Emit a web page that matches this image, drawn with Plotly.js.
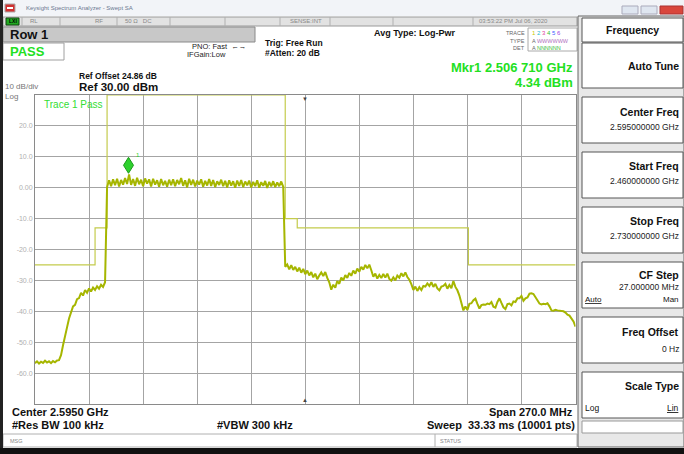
<!DOCTYPE html>
<html><head><meta charset="utf-8">
<script src="https://cdn.plot.ly/plotly-3.0.1.min.js"></script>
<style>html,body{margin:0;padding:0;background:#fff}#chart{width:684px;height:454px}</style>
</head><body><div id="chart"></div>
<script>
// ---------- DATA ----------
const freqMHz = [
2460,2461,2462,2463,2464,2465,2466,2467,2468,2469,
2470,2471,2472,2473,2474,2475,2476,2477,2478,2479,
2480,2481,2482,2483,2484,2485,2486,2487,2488,2489,
2490,2491,2492,2493,2494,2495,2496,2497,2498,2499,
2500,2501,2502,2503,2504,2505,2506,2507,2508,2509,
2510,2511,2512,2513,2514,2515,2516,2517,2518,2519,
2520,2521,2522,2523,2524,2525,2526,2527,2528,2529,
2530,2531,2532,2533,2534,2535,2536,2537,2538,2539,
2540,2541,2542,2543,2544,2545,2546,2547,2548,2549,
2550,2551,2552,2553,2554,2555,2556,2557,2558,2559,
2560,2561,2562,2563,2564,2565,2566,2567,2568,2569,
2570,2571,2572,2573,2574,2575,2576,2577,2578,2579,
2580,2581,2582,2583,2584,2585,2586,2587,2588,2589,
2590,2591,2592,2593,2594,2595,2596,2597,2598,2599,
2600,2601,2602,2603,2604,2605,2606,2607,2608,2609,
2610,2611,2612,2613,2614,2615,2616,2617,2618,2619,
2620,2621,2622,2623,2624,2625,2626,2627,2628,2629,
2630,2631,2632,2633,2634,2635,2636,2637,2638,2639,
2640,2641,2642,2643,2644,2645,2646,2647,2648,2649,
2650,2651,2652,2653,2654,2655,2656,2657,2658,2659,
2660,2661,2662,2663,2664,2665,2666,2667,2668,2669,
2670,2671,2672,2673,2674,2675,2676,2677,2678,2679,
2680,2681,2682,2683,2684,2685,2686,2687,2688,2689,
2690,2691,2692,2693,2694,2695,2696,2697,2698,2699,
2700,2701,2702,2703,2704,2705,2706,2707,2708,2709,
2710,2711,2712,2713,2714,2715,2716,2717,2718,2719,
2720,2721,2722,2723,2724,2725,2726,2727,2728,2729,
2730];
const traceDbm = [
-56.8,-56.2,-56.9,-56.3,-56.7,-56.0,-56.6,-56.2,-56.8,-56.1,
-56.5,-55.9,-55.8,-54.2,-51.0,-47.6,-45.2,-42.3,-40.6,-38.4,
-37.9,-36.1,-35.7,-34.0,-34.9,-33.1,-34.0,-32.6,-33.6,-32.3,
-33.1,-31.9,-32.7,-31.4,-32.1,-30.6,
0.2,2.4,0.5,2.7,0.8,2.9,0.4,2.5,1.0,3.1,
1.2,4.3,0.9,2.8,0.6,3.2,1.1,2.6,0.5,3.0,
1.3,2.7,0.4,2.9,1.0,2.4,0.3,2.8,0.8,2.2,
0.3,2.6,0.8,2.7,0.5,2.5,1.1,3.1,0.6,2.4,
0.1,2.9,0.9,2.6,0.4,2.3,1.0,2.7,0.3,2.2,
0.7,2.8,0.6,2.5,0.2,2.1,0.9,2.6,0.5,2.2,
0.1,2.4,0.7,2.1,0.0,2.3,0.6,2.5,0.2,2.0,
0.8,2.3,0.1,1.9,0.5,2.4,0.0,1.8,0.6,2.2,
-0.1,1.9,0.4,2.1,0.2,1.7,0.5,2.0,0.3,
-25.6,-24.8,-26.4,-25.1,-26.6,
-25.6,-27.1,-25.9,-27.5,-26.3,-28.0,-26.8,-28.4,-27.3,-29.0,
-27.8,-29.6,-28.4,-27.4,-28.6,-27.3,-29.2,-30.6,-33.0,-31.4,
-32.4,-30.2,-31.1,-29.1,-30.0,-28.3,-29.2,-27.6,-28.5,-26.8,
-27.8,-26.2,-27.2,-25.6,-26.5,-25.0,-26.1,-24.9,-26.7,-28.8,
-27.8,-29.4,-28.2,-29.2,-27.9,-29.1,-27.8,-29.5,-30.1,-29.0,
-30.0,-28.4,-29.1,-27.7,-28.7,-27.4,-28.9,-29.8,-31.2,-33.1,
-32.0,-33.4,-32.2,-33.1,-31.8,-32.0,-31.0,-31.8,-30.6,-32.1,
-31.1,-32.6,-33.2,-32.0,-31.8,-31.1,-32.7,-31.5,-32.5,-30.2,
-32.1,-33.2,-34.9,-37.0,-39.7,-38.4,-39.6,-37.6,-37.4,-36.4,
-35.9,-37.6,-39.1,-38.0,-37.8,-37.9,-37.5,-37.7,-37.0,-38.5,
-38.8,-37.0,-35.8,-37.3,-38.7,-39.3,-37.7,-37.5,-38.1,-36.8,
-37.0,-35.8,-35.8,-35.0,-36.6,-35.8,-35.5,-34.3,-34.2,-34.4,
-35.4,-36.3,-37.5,-37.8,-37.6,-37.7,-37.4,-38.4,-39.7,-39.8,
-39.5,-39.7,-39.8,-40.0,-40.0,-40.4,-41.1,-41.4,-42.5,-43.3,
-45.0];
const limitFreqMHz = [2460, 2490, 2490, 2496, 2496, 2585, 2585, 2591, 2591, 2676.5, 2676.5, 2730];
const limitDbm     = [-25, -25, -13, -13, 30, 30, -10, -10, -13, -13, -25, -25];
const markerFreqMHz = 2506.71;
const markerDbm = 4.34;
const startMHz = 2460, stopMHz = 2730, divMHz = 27;
const refDbm = 30, bottomDbm = -70;
const yTickVals = [20, 10, 0, -10, -20, -30, -40, -50, -60];
const yTickText = ['20.0', '10.0', '0.00', '-10.0', '-20.0', '-30.0', '-40.0', '-50.0', '-60.0'];
const softkeyTitles = ['Center Freq', 'Start Freq', 'Stop Freq', 'CF Step', 'Freq Offset', 'Scale Type'];
const softkeyValues = ['2.595000000 GHz', '2.460000000 GHz', '2.730000000 GHz', '27.000000 MHz', '0 Hz', ''];

// ---------- LAYOUT HELPERS ----------
const W = 684, H = 454;
const px = x => x / W;
const py = y => 1 - y / H;
const FONT = 'Liberation Sans, Arial, sans-serif';
const shapes = [];
const ann = [];
function rect(x0, y0, x1, y1, fill, line, lw) {
  shapes.push({type: 'rect', xref: 'paper', yref: 'paper', x0: px(x0), x1: px(x1), y0: py(y1), y1: py(y0),
    fillcolor: fill || 'rgba(0,0,0,0)', line: {color: line || 'rgba(0,0,0,0)', width: lw === undefined ? 1 : lw}, layer: 'below'});
}
function vline(x, y0, y1, color, w) {
  shapes.push({type: 'line', xref: 'paper', yref: 'paper', x0: px(x), x1: px(x), y0: py(y0), y1: py(y1), line: {color: color, width: w || 1}});
}
function T(x, y, text, o) {
  o = o || {};
  ann.push({xref: 'paper', yref: 'paper', x: px(x), y: py(y), text: text, showarrow: false,
    xanchor: o.anchor || 'left', yanchor: 'middle',
    font: {family: FONT, size: o.size || 9, color: o.color || '#111', weight: o.bold ? 'bold' : 'normal'}});
}

// frame / chrome
rect(0, 0, 684, 16, '#f2f4f8', null, 0);
rect(5, 4, 15, 12, '#d03030', '#aaa');
rect(7, 7, 13, 9, '#ffffff', null, 0);
T(24, 8, 'Keysight Spectrum Analyzer - Swept SA', {size: 6, color: '#6a7890'});
rect(622, 6, 638, 14, '#dfe6f0', '#aab', 1);
rect(641, 6, 657, 14, '#dfe6f0', '#aab', 1);
rect(660, 6, 683, 14, '#d9463c', '#a33', 1);
rect(3, 17, 577, 26, '#e2e2e2', '#9a9a9a');
[22, 60, 117, 170, 225, 280, 330, 393, 473].forEach(x => vline(x, 17, 26, '#b0b0b0'));
rect(6, 18, 19, 25, '#22aa22', '#114411');
T(12.5, 21.5, 'LXI', {size: 5, color: '#000', anchor: 'center', bold: true});
T(28, 21.5, 'RL', {size: 6, color: '#888'});
T(93, 21.5, 'RF', {size: 6, color: '#888'});
T(123, 21.5, '50 Ω   DC', {size: 6, color: '#888'});
T(288, 21.5, 'SENSE:INT', {size: 6, color: '#888'});
T(477, 21.5, '03:53:22 PM Jul 06, 2020', {size: 6, color: '#888'});
rect(3, 27, 255, 42, '#c8c8c8', '#8a8a8a');
T(8, 34.5, 'Row 1', {size: 13, bold: true});
rect(3, 43, 64, 60, '#ffffff', '#a0a0a0');
T(8, 51.5, 'PASS', {size: 13, bold: true, color: '#22e022'});
T(190, 46.5, 'PNO: Fast  ←→', {size: 7.5, color: '#222'});
T(185, 55, 'IFGain:Low', {size: 7.5, color: '#222'});
T(263, 43, 'Trig: Free Run', {size: 8.5, bold: true});
T(263, 53, '#Atten: 20 dB', {size: 8.5, bold: true});
T(372, 33, 'Avg Type: Log-Pwr', {size: 9, bold: true});
rect(528, 28, 577, 51, null, '#aaaaaa');
T(527, 33, 'TRACE', {size: 5.5, color: '#666', anchor: 'right'});
T(527, 41, 'TYPE', {size: 5.5, color: '#666', anchor: 'right'});
T(527, 48, 'DET', {size: 5.5, color: '#666', anchor: 'right'});
T(530, 33, '<span style="color:#c8c800">1</span> <span style="color:#19b8d0">2</span> <span style="color:#e040a0">3</span> <span style="color:#30c030">4</span> <span style="color:#4060ff">5</span> <span style="color:#a040e0">6</span>', {size: 6});
T(530, 41, 'A <span style="color:#b070c0">WWWWWW</span>', {size: 5.5, color: '#666'});
T(530, 48, 'A <span style="color:#40c040">NNNNNN</span>', {size: 5.5, color: '#666'});
T(575, 67, 'Mkr1 2.506 710 GHz', {size: 13, bold: true, color: '#22e022', anchor: 'right'});
T(575, 83, '4.34 dBm', {size: 13, bold: true, color: '#22e022', anchor: 'right'});
T(77, 76, 'Ref Offset 24.86 dB', {size: 8.5, bold: true});
T(77, 87, 'Ref 30.00 dBm', {size: 11.5, bold: true});
T(3, 86.5, '10 dB/div', {size: 8, color: '#777'});
T(3, 96.5, 'Log', {size: 8, color: '#777'});
T(42, 104, 'Trace 1 Pass', {size: 10, color: '#33dd33'});
T(10, 412, 'Center 2.5950 GHz', {size: 11, bold: true});
T(10, 425, '#Res BW 100 kHz', {size: 11, bold: true});
T(215, 425, '#VBW 300 kHz', {size: 11, bold: true});
T(575, 412, 'Span 270.0 MHz', {size: 11, bold: true, anchor: 'right'});
T(577, 425, 'Sweep  33.33 ms (10001 pts)', {size: 11, bold: true, anchor: 'right'});
rect(3, 434, 577, 447, '#ffffff', '#b0b0b0');
vline(435, 434, 447, '#b0b0b0');
T(8, 440.5, 'MSG', {size: 5.5, color: '#888'});
T(438, 440.5, 'STATUS', {size: 5.5, color: '#888'});
// right soft key panel
rect(578, 16, 684, 447, '#e8e8e8', '#666');
rect(582, 18, 683, 42, '#ffffff', '#555');
T(632, 30, 'Frequency', {size: 10.5, bold: true, anchor: 'center'});
rect(582, 43, 683, 88, '#ffffff', '#555');
T(681, 66, 'Auto Tune', {size: 10.5, bold: true, anchor: 'right'});
const keyTops = [97, 152, 207, 262, 317, 372];
const titleOff = [15, 14, 14, 13, 15, 14];
const valueOff = [30, 29, 29, 25, 32, 0];
softkeyTitles.forEach((t, i) => {
  const y0 = keyTops[i];
  rect(582, y0, 683, y0 + 46, '#ffffff', '#555');
  T(681, y0 + titleOff[i], t, {size: 10.5, bold: true, anchor: 'right'});
  if (softkeyValues[i]) T(681, y0 + valueOff[i], softkeyValues[i], {size: 8.5, anchor: 'right', color: '#222'});
});
T(583, 299.5, '<u>Auto</u>', {size: 8});
T(681, 299.5, 'Man', {size: 8, anchor: 'right'});
T(583, 408, 'Log', {size: 8.5});
T(681, 408, '<u>Lin</u>', {size: 8.5, anchor: 'right'});
rect(582, 421, 683, 433, '#ffffff', '#999');
// outer dark borders
rect(0, 0, 3, 454, '#222', null, 0);
rect(0, 448, 684, 454, '#111', null, 0);

// marker diamond (pixel-sized shape anchored at the marker's data point)
shapes.push({type: 'path', xref: 'x', yref: 'y', xsizemode: 'pixel', ysizemode: 'pixel',
  xanchor: markerFreqMHz, yanchor: markerDbm, path: 'M0,1L5,9L0,17L-5,9Z',
  fillcolor: '#2ed12e', line: {color: '#1c9a1c', width: 1}, layer: 'above'});
ann.push({x: markerFreqMHz, y: markerDbm, xref: 'x', yref: 'y', text: '1', showarrow: false,
  xshift: 9, yshift: 19, font: {family: FONT, size: 6, color: '#2ed12e'}});
ann.push({x: (startMHz + stopMHz) / 2, y: refDbm, xref: 'x', yref: 'y', text: '▼', showarrow: false,
  yanchor: 'top', yshift: 1, font: {size: 6, color: '#444'}});
ann.push({x: (startMHz + stopMHz) / 2, y: bottomDbm, xref: 'x', yref: 'y', text: '▲', showarrow: false,
  yanchor: 'bottom', yshift: -1, font: {size: 6, color: '#444'}});

const data = [
  {x: limitFreqMHz, y: limitDbm, type: 'scatter', mode: 'lines', line: {color: '#c4cb4c', width: 1.2}, hoverinfo: 'skip'},
  {x: freqMHz, y: traceDbm, type: 'scatter', mode: 'lines', line: {color: '#a6b600', width: 2}, hoverinfo: 'skip'}
];
const layout = {
  width: W, height: H, margin: {l: 0, r: 0, t: 0, b: 0},
  paper_bgcolor: '#ffffff', plot_bgcolor: '#ffffff', showlegend: false,
  font: {family: FONT},
  xaxis: {domain: [px(35), px(575.5)], range: [startMHz, stopMHz], tick0: startMHz, dtick: divMHz,
    showticklabels: false, ticks: '', showgrid: true, gridcolor: '#a4a4a4', gridwidth: 1,
    zeroline: false, showline: true, linecolor: '#8a8a8a', linewidth: 1, mirror: true, fixedrange: true},
  yaxis: {domain: [py(404), py(95)], range: [bottomDbm, refDbm], tickvals: yTickVals, ticktext: yTickText,
    tickfont: {size: 7, color: '#b0b0b0', family: FONT}, ticks: '', showgrid: true, gridcolor: '#a4a4a4', gridwidth: 1,
    zeroline: false, showline: true, linecolor: '#8a8a8a', linewidth: 1, mirror: true, fixedrange: true},
  shapes: shapes, annotations: ann
};
Plotly.newPlot('chart', data, layout, {staticPlot: true, displayModeBar: false});
</script></body></html>
